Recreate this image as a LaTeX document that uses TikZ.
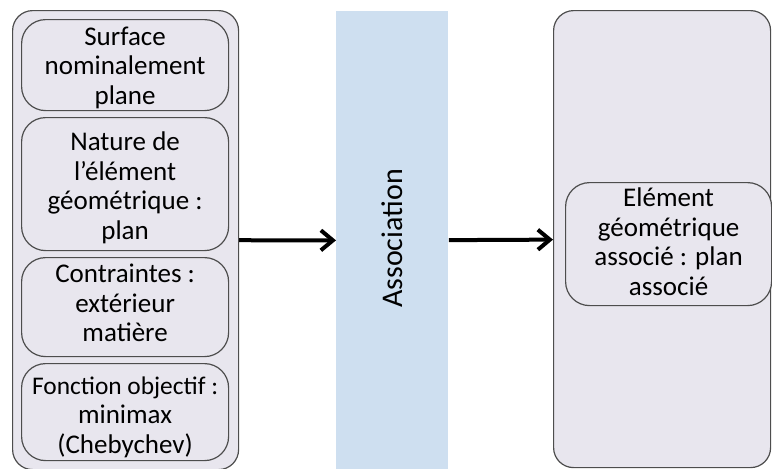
\documentclass[tikz,border=0pt]{standalone}
\usepackage{fontspec}
\setmainfont{Carlito}
\usetikzlibrary{positioning, arrows.meta}
\definecolor{boxfill}{HTML}{E8E6EE}
\definecolor{boxline}{HTML}{4D4D4D}
\definecolor{assocfill}{HTML}{CEDFF0}

\begin{document}
\begin{tikzpicture}[
  x=0.5pt, y=-0.5pt,
  frame/.style={rectangle, draw=boxline, rounded corners=10pt,
                fill=boxfill, line width=0.6pt, anchor=north west},
  item/.style={rectangle, draw=boxline, rounded corners=12pt,
               fill=boxfill, line width=0.6pt, anchor=north west,
               minimum width=103.5pt},
  itemtxt/.style={align=center, inner sep=0pt,
                  font=\fontsize{13.5}{14.75}\selectfont},
  arr/.style={-{Straight Barb[length=6pt, width=10pt]}, line width=2pt}
]
\useasboundingbox (0,0) rectangle (772,468);

% entrees
\node[frame, minimum width=113pt, minimum height=229.5pt] (inputs) at (12,10) {};
\node[item, minimum height=45.5pt] (surf) at (21,19) {};
\node[item, minimum height=66.5pt] (nat) at (21,117) {};
\node[item, minimum height=49.5pt] (cont) at (21,257) {};
\node[item, minimum height=48.5pt] (obj) at (21,363) {};
\node[itemtxt] (surftxt) at ([yshift=-1.4pt]surf.center) {Surface\\nominalement\\plane};
\node[itemtxt] (nattxt) at ([yshift=-1.8pt]nat.center) {Nature de\\l’élément\\géométrique :\\plan};
\node[itemtxt] (conttxt) at ([yshift=2pt]cont.center) {Contraintes :\\extérieur\\matière};
\node[itemtxt] (objtxt) at ([yshift=-2.4pt]obj.center)
  {{\fontsize{12.7}{14.75}\selectfont Fonction objectif :}\\minimax\\(Chebychev)};

% operation
\node[rectangle, fill=assocfill, anchor=north west, minimum width=56pt,
      minimum height=229pt] (assoc) at (336,11) {};
\node[rotate=90, font=\fontsize{15}{16}\selectfont] (assoctxt) at ([yshift=1pt]assoc.center) {Association};

% resultat
\node[frame, minimum width=108.5pt, minimum height=228.5pt] (outputs) at (553,10) {};
\node[item, minimum width=103pt, minimum height=61.5pt] (elem) at (565,182) {};
\node[itemtxt] (elemtxt) at ([yshift=1.2pt]elem.center)
  {Elément\\géométrique\\associé : plan\\associé};

\draw[arr] (inputs) -- (assoc);
\draw[arr] (assoc) -- (outputs);
\end{tikzpicture}
\end{document}
